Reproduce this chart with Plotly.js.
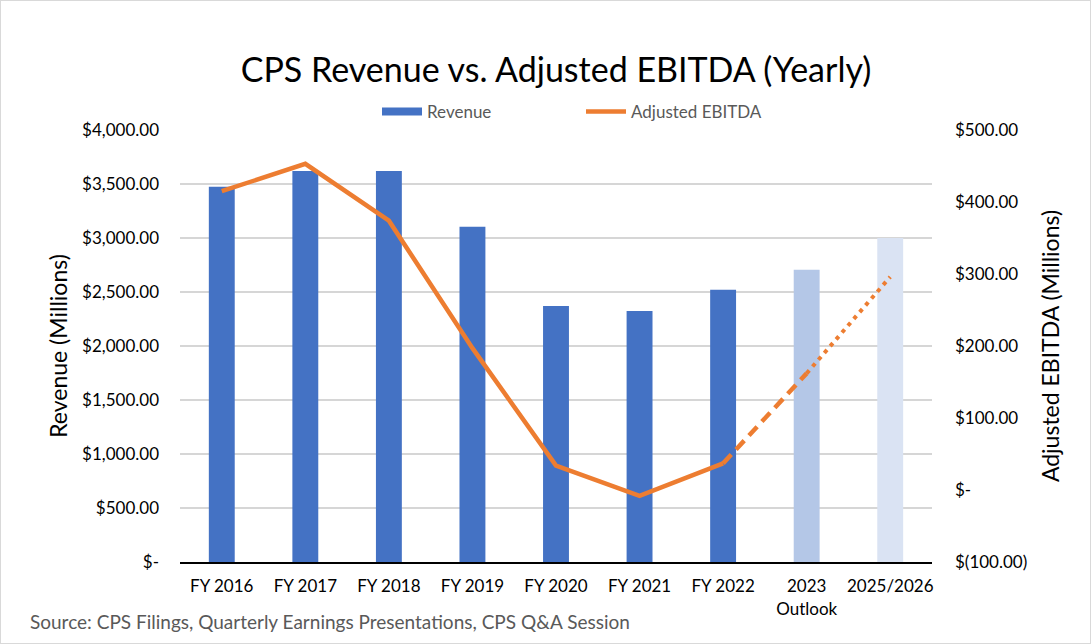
<!DOCTYPE html>
<html>
<head>
<meta charset="utf-8">
<script src="https://cdn.plot.ly/plotly-3.0.1.min.js"></script>
<style>
  html, body { margin: 0; padding: 0; background: #fff; }
  #wrap { position: relative; width: 1091px; height: 644px; }
  #chart { width: 1091px; height: 644px; }
  #frame { position: absolute; left: 0; top: 0; width: 1091px; height: 644px; box-sizing: border-box; border: 1px solid #d9d9d9; pointer-events: none; }
</style>
</head>
<body>
<div id="wrap"><div id="chart"></div><div id="frame"></div></div>
<script>
// ---- data ----
const categories = ["FY 2016", "FY 2017", "FY 2018", "FY 2019", "FY 2020", "FY 2021", "FY 2022", "2023<br>Outlook", "2025/2026"];
const revenue = [3475, 3620, 3620, 3105, 2370, 2325, 2520, 2705, 3000];
const adjustedEbitda = [415, 453, 374, 197, 34, -8, 37, 162, 296];
const revenueTickVals = [0, 500, 1000, 1500, 2000, 2500, 3000, 3500, 4000];
const revenueTickText = ["$-", "$500.00", "$1,000.00", "$1,500.00", "$2,000.00", "$2,500.00", "$3,000.00", "$3,500.00", "$4,000.00"];
const ebitdaTickVals = [-100, 0, 100, 200, 300, 400, 500];
const ebitdaTickText = ["$(100.00)", "$-", "$100.00", "$200.00", "$300.00", "$400.00", "$500.00"];

// ---- styles ----
const barBlue = "#4472C4";
const barColors = categories.map((c, i) => i < 7 ? barBlue : (i === 7 ? "#B4C7E7" : "#DAE3F3"));
const lineColor = "#ED7D31";
const FONT = "Lato, 'Open Sans', sans-serif";

const traces = [
  {
    type: "bar", name: "Revenue", x: categories, y: revenue,
    marker: { color: barColors }, yaxis: "y", hoverinfo: "x+y",
    showlegend: false, legendgroup: "rev"
  },
  // legend key only (wide swatch like the original), draws no marks
  {
    type: "scatter", mode: "lines", name: "Revenue", legendgroup: "rev",
    x: [null], y: [null], yaxis: "y",
    line: { color: barBlue, width: 8 }, hoverinfo: "skip"
  },
  {
    type: "scatter", mode: "lines", name: "Adjusted EBITDA",
    x: categories.slice(0, 7), y: adjustedEbitda.slice(0, 7), yaxis: "y2",
    line: { color: lineColor, width: 4.5 }
  },
  {
    type: "scatter", mode: "lines", name: "Adjusted EBITDA (Outlook)", showlegend: false,
    x: categories.slice(6, 8), y: adjustedEbitda.slice(6, 8), yaxis: "y2",
    line: { color: lineColor, width: 4.5, dash: "12px,7px" }
  },
  {
    type: "scatter", mode: "lines", name: "Adjusted EBITDA (Target)", showlegend: false,
    x: categories.slice(7, 9), y: adjustedEbitda.slice(7, 9), yaxis: "y2",
    line: { color: lineColor, width: 4, dash: "4px,5px" }
  }
];

const plotL = 180, plotR = 932, plotT = 130, plotB = 562, W = 1091, H = 644;
const pw = plotR - plotL, ph = plotB - plotT;

const layout = {
  width: W, height: H,
  margin: { l: plotL, r: W - plotR, t: plotT, b: H - plotB, pad: 0 },
  paper_bgcolor: "#fff", plot_bgcolor: "#fff",
  font: { family: FONT, color: "#404040", size: 16 },
  title: {
    text: "CPS Revenue vs. Adjusted EBITDA (Yearly)",
    font: { family: FONT, size: 34, color: "#000" },
    x: 0.5, xref: "paper", xanchor: "center",
    y: 1 - 70 / H, yref: "container", yanchor: "middle"
  },
  bargap: 0.69,
  showlegend: true,
  legend: {
    orientation: "h", x: (377 - plotL) / pw, xanchor: "left", y: (plotB - 112) / ph, yanchor: "middle",
    font: { family: FONT, size: 17, color: "#595959" },
    itemwidth: 40, entrywidth: 149, bgcolor: "rgba(0,0,0,0)", traceorder: "normal"
  },
  xaxis: {
    type: "category",
    showgrid: false, showline: true, linecolor: "#000", linewidth: 2,
    ticks: "", ticklabelstandoff: 8,
    tickfont: { family: FONT, size: 17, color: "#000" }
  },
  yaxis: {
    range: [0, 4000], tickvals: revenueTickVals, ticktext: revenueTickText,
    showgrid: true, gridcolor: "#d6d6d6", gridwidth: 1.6, zeroline: false,
    showline: false, ticks: "", ticklabelstandoff: 20,
    tickfont: { family: FONT, size: 17, color: "#000" },
    title: { text: "Revenue (Millions)", font: { family: FONT, size: 23, color: "#000" }, standoff: 8 }
  },
  yaxis2: {
    range: [-100, 500], tickvals: ebitdaTickVals, ticktext: ebitdaTickText,
    overlaying: "y", side: "right",
    showgrid: false, zeroline: false, showline: false, ticks: "", ticklabelstandoff: 22,
    tickfont: { family: FONT, size: 17, color: "#000" },
    title: { text: "Adjusted EBITDA (Millions)", font: { family: FONT, size: 23, color: "#000" }, standoff: 16 }
  },
  annotations: [
    {
      text: "Source: CPS Filings, Quarterly Earnings Presentations, CPS Q&A Session",
      xref: "paper", yref: "paper",
      x: (28 - plotL) / pw, xanchor: "left",
      y: (plotB - 621) / ph, yanchor: "middle",
      showarrow: false,
      font: { family: FONT, size: 19, color: "#595959" }
    }
  ]
};

Plotly.newPlot("chart", traces, layout, { displayModeBar: false, responsive: false });
</script>
</body>
</html>
